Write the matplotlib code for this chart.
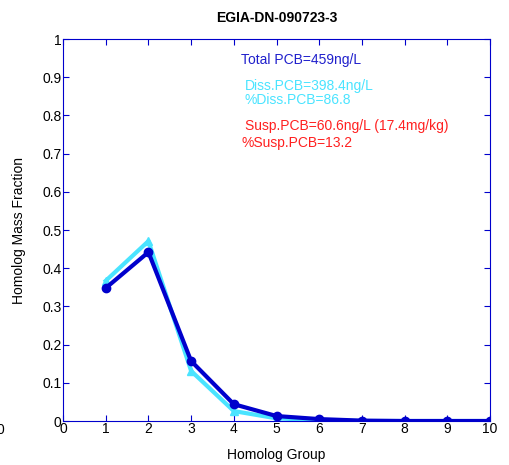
"""
Homolog mass fraction profile - EGIA-DN-090723-3
"""
import matplotlib.pyplot as plt

plt.rcParams["font.family"] = ["Liberation Sans", "DejaVu Sans"]

groups = [1, 2, 3, 4, 5, 6, 7, 8, 9, 10]
total_frac = [0.348, 0.442, 0.157, 0.044, 0.013, 0.005, 0.001, 0.0, 0.0, 0.0]
diss_frac = [0.367, 0.471, 0.131, 0.026, 0.007, 0.002, 0.0, 0.0, 0.0, 0.0]
xticks = list(range(0, 11))
yticks = [0, 0.1, 0.2, 0.3, 0.4, 0.5, 0.6, 0.7, 0.8, 0.9, 1]
ytick_labels = ["0", "0.1", "0.2", "0.3", "0.4", "0.5", "0.6", "0.7", "0.8", "0.9", "1"]

dark_blue = "#0000cc"
cyan = "#4ae4ff"
red = "#ff2020"

fig = plt.figure(figsize=(5.09, 4.65), dpi=100)
ax = fig.add_axes([0.1238, 0.0946, 0.8389, 0.8215])

ax.plot(groups, diss_frac, color=cyan, linewidth=3, marker="^", markersize=6, zorder=2)
ax.plot(groups, total_frac, color=dark_blue, linewidth=3, marker="o", markersize=6, zorder=3)

ax.set_xlim(0, 10)
ax.set_ylim(0, 1)
ax.set_xticks(xticks)
ax.set_yticks(yticks)
ax.set_yticklabels(ytick_labels)
for s in ax.spines.values():
    s.set_color(dark_blue)
ax.tick_params(direction="in", colors=dark_blue, labelcolor="black", labelsize=10,
               top=True, right=True, length=4, pad=1)

ax.text(4.17, 0.945, "Total PCB=459ng/L", color="#2020cc", fontsize=10, va="center")
ax.text(4.26, 0.877, "Diss.PCB=398.4ng/L", color=cyan, fontsize=10, va="center")
ax.text(4.26, 0.840, "%Diss.PCB=86.8", color=cyan, fontsize=10, va="center")
ax.text(4.26, 0.772, "Susp.PCB=60.6ng/L (17.4mg/kg)", color=red, fontsize=10, va="center")
ax.text(4.17, 0.728, "%Susp.PCB=13.2", color=red, fontsize=10, va="center")

ax.set_title("EGIA-DN-090723-3", fontsize=10, fontweight="bold", pad=12)
ax.set_xlabel("Homolog Group", fontsize=10, labelpad=8)
ax.set_ylabel("Homolog Mass Fraction", fontsize=10, labelpad=12)

# clipped label fragment at the far left edge
fig.text(-0.006, 0.076, "0", fontsize=10, va="center")

plt.savefig("out.png", dpi=100)
